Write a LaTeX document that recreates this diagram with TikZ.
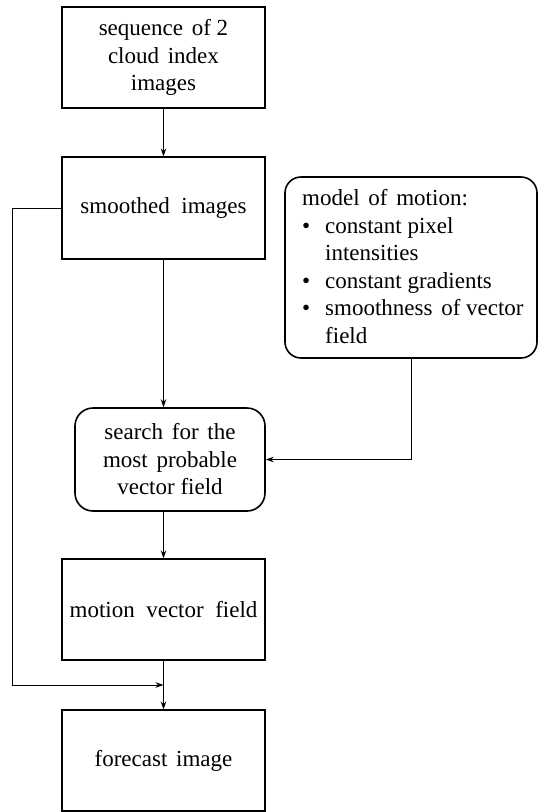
\documentclass[tikz,border=0pt]{standalone}
\usepackage{fontspec}
\setmainfont{Liberation Serif}
\usetikzlibrary{arrows.meta}
\newcommand\ws{\hspace{0.5em}}
\newcommand\ms{\hspace{0.38em}}
\tikzset{
  box/.style={draw, line width=1.2pt, minimum width=203, minimum height=101, align=center, inner sep=0pt},
  rbox/.style={draw, line width=1.6pt, rounded corners=18pt, align=center, inner sep=0pt},
  arr/.style={line width=0.9pt, -{Stealth[length=8pt,width=5.5pt]}},
  conn/.style={line width=0.9pt},
  every node/.style={font=\fontsize{23}{27.5}\selectfont}
}
\begin{document}
\begin{tikzpicture}[x=1pt,y=-1pt]
\useasboundingbox (0,0) rectangle (538,812);
\node[box] (seq) at (163.5,57.5) {sequence\ms of 2\\cloud\ms index\\images};
\node[box, minimum height=102] (smooth) at (163.5,208) {smoothed\ws images};
\node[rbox, minimum width=190, minimum height=103] (search) at (170,459.5) {search\ms for\ms the\\most\ms probable\\vector field};
\node[box] (motion) at (163.5,609.5) {motion\ws vector\ws field};
\node[box] (fore) at (163.5,760.5) {forecast\ms image};
\node[rbox, rounded corners=16pt, minimum width=252, minimum height=181] (model) at (411,267.5) {};
\node[anchor=north west, align=left, inner sep=0pt] (modeltext) at (302,189.5)
  {model\ms of\ms motion:\\
   \makebox[23pt][l]{\textbullet}constant pixel\\
   \hspace*{23pt}intensities\\
   \makebox[23pt][l]{\textbullet}constant gradients\\
   \makebox[23pt][l]{\textbullet}smoothness\ms of vector\\
   \hspace*{23pt}field};
\coordinate (lft) at (12,0);
\coordinate (join) at (163.5,685);
\draw[arr] (seq) -- (smooth);
\draw[arr] (smooth.south) -- (smooth.south |- search.north);
\draw[arr] (motion.north |- search.south) -- (motion.north);
\draw[arr] (motion) -- (fore);
\draw[arr] (smooth.west) -- (smooth.west -| lft) -- (lft |- join) -- (join);
\draw[arr] (model.south) -- (model.south |- search.east) -- (search.east);
\end{tikzpicture}
\end{document}
